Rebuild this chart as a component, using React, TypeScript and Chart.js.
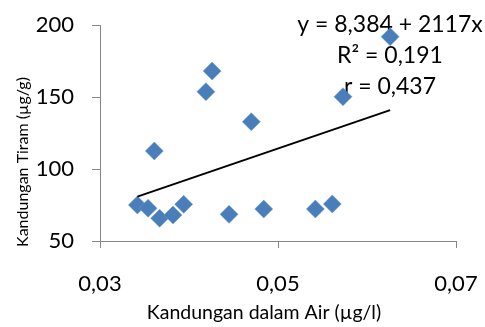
import React, { useEffect, useRef } from "react";
import { Chart, registerables } from "chart.js";

Chart.register(...registerables);

const waterValues = [0.0342, 0.0354, 0.0367, 0.0382, 0.0394, 0.0361, 0.0419, 0.0426, 0.0445, 0.0470, 0.0484, 0.0542, 0.0561, 0.0573, 0.0626];
const oysterValues = [75, 72.7, 65.8, 68, 75.5, 112.5, 153.7, 168, 68.5, 132.8, 72.2, 72.2, 75.7, 150.2, 191.9];
const trendIntercept = 8.384;
const trendSlope = 2117;
const annotationLines = ["y = 8,384 + 2117x", "R\u00b2 = 0,191", "r = 0,437"];
const xTitle = "Kandungan dalam Air (\u00b5g/l)";
const yTitle = "Kandungan Tiram (\u00b5g/g)";

const FONT = "Lato, 'Open Sans', sans-serif";

export default function App() {
  const ref = useRef<HTMLCanvasElement | null>(null);
  useEffect(() => {
    if (!ref.current) return;
    const xMin = Math.min(...waterValues);
    const xMax = Math.max(...waterValues);
    const trend = [
      { x: xMin, y: trendIntercept + trendSlope * xMin },
      { x: xMax, y: trendIntercept + trendSlope * xMax },
    ];
    const textPlugin = {
      id: "texts",
      beforeDatasetsDraw(chart: any) {
        const ctx = chart.ctx;
        ctx.save();
        ctx.fillStyle = "#000";
        ctx.font = `23px ${FONT}`;
        ctx.textAlign = "center";
        ctx.textBaseline = "alphabetic";
        const bases = [32, 63, 94];
        annotationLines.forEach((t, i) => ctx.fillText(t, 390, bases[i]));
        ctx.restore();
      },
      afterDraw(chart: any) {
        const ctx = chart.ctx;
        ctx.save();
        ctx.fillStyle = "#000";
        ctx.font = `19.5px ${FONT}`;
        ctx.textAlign = "center";
        ctx.textBaseline = "alphabetic";
        ctx.fillText(xTitle, 264, 319);
        ctx.translate(28, 162);
        ctx.rotate(-Math.PI / 2);
        ctx.font = `16px ${FONT}`;
        ctx.fillText(yTitle, 0, 0);
        ctx.restore();
      },
    };
    const chart = new Chart(ref.current, {
      type: "scatter",
      data: {
        datasets: [
          {
            type: "line",
            data: trend,
            borderColor: "#000",
            borderWidth: 2,
            pointRadius: 0,
            fill: false,
          } as any,
          {
            data: waterValues.map((x, i) => ({ x, y: oysterValues[i] })),
            pointStyle: "rectRot",
            pointRadius: 9,
            backgroundColor: "#4A7EBB",
            borderColor: "#6A96CC",
            borderWidth: 0.5,
          },
        ],
      },
      options: {
        responsive: false,
        animation: false,
        layout: { padding: { top: 25, right: 29, left: 0, bottom: 0 } },
        plugins: { legend: { display: false }, tooltip: { enabled: false } },
        scales: {
          x: {
            type: "linear",
            min: 0.03,
            max: 0.07,
            afterFit: (s: any) => { s.height = 86; s.paddingLeft = 0; s.paddingRight = 0; },
            ticks: {
              stepSize: 0.02,
              color: "#000",
              font: { family: FONT, size: 22 },
              padding: 23,
              maxRotation: 0,
              callback: (v: any) => Number(v).toFixed(2).replace(".", ","),
            },
            grid: { drawOnChartArea: false, drawTicks: true, tickLength: 7, color: "#868686", lineWidth: 1 },
            border: { color: "#868686", width: 1 },
          },
          y: {
            min: 50,
            max: 200,
            afterFit: (s: any) => { s.width = 100; s.paddingTop = 0; s.paddingBottom = 0; },
            ticks: {
              stepSize: 50,
              color: "#000",
              font: { family: FONT, size: 22 },
              padding: 18,
            },
            grid: { drawOnChartArea: false, drawTicks: true, tickLength: 8, color: "#868686", lineWidth: 1 },
            border: { color: "#868686", width: 1 },
          },
        },
      },
      plugins: [textPlugin],
    });
    return () => chart.destroy();
  }, []);
  return (
    <div style={{ position: "absolute", left: 0, top: 0, width: 485, height: 327, background: "#fff" }}>
      <canvas ref={ref} width={485} height={327} style={{ display: "block" }} />
    </div>
  );
}
